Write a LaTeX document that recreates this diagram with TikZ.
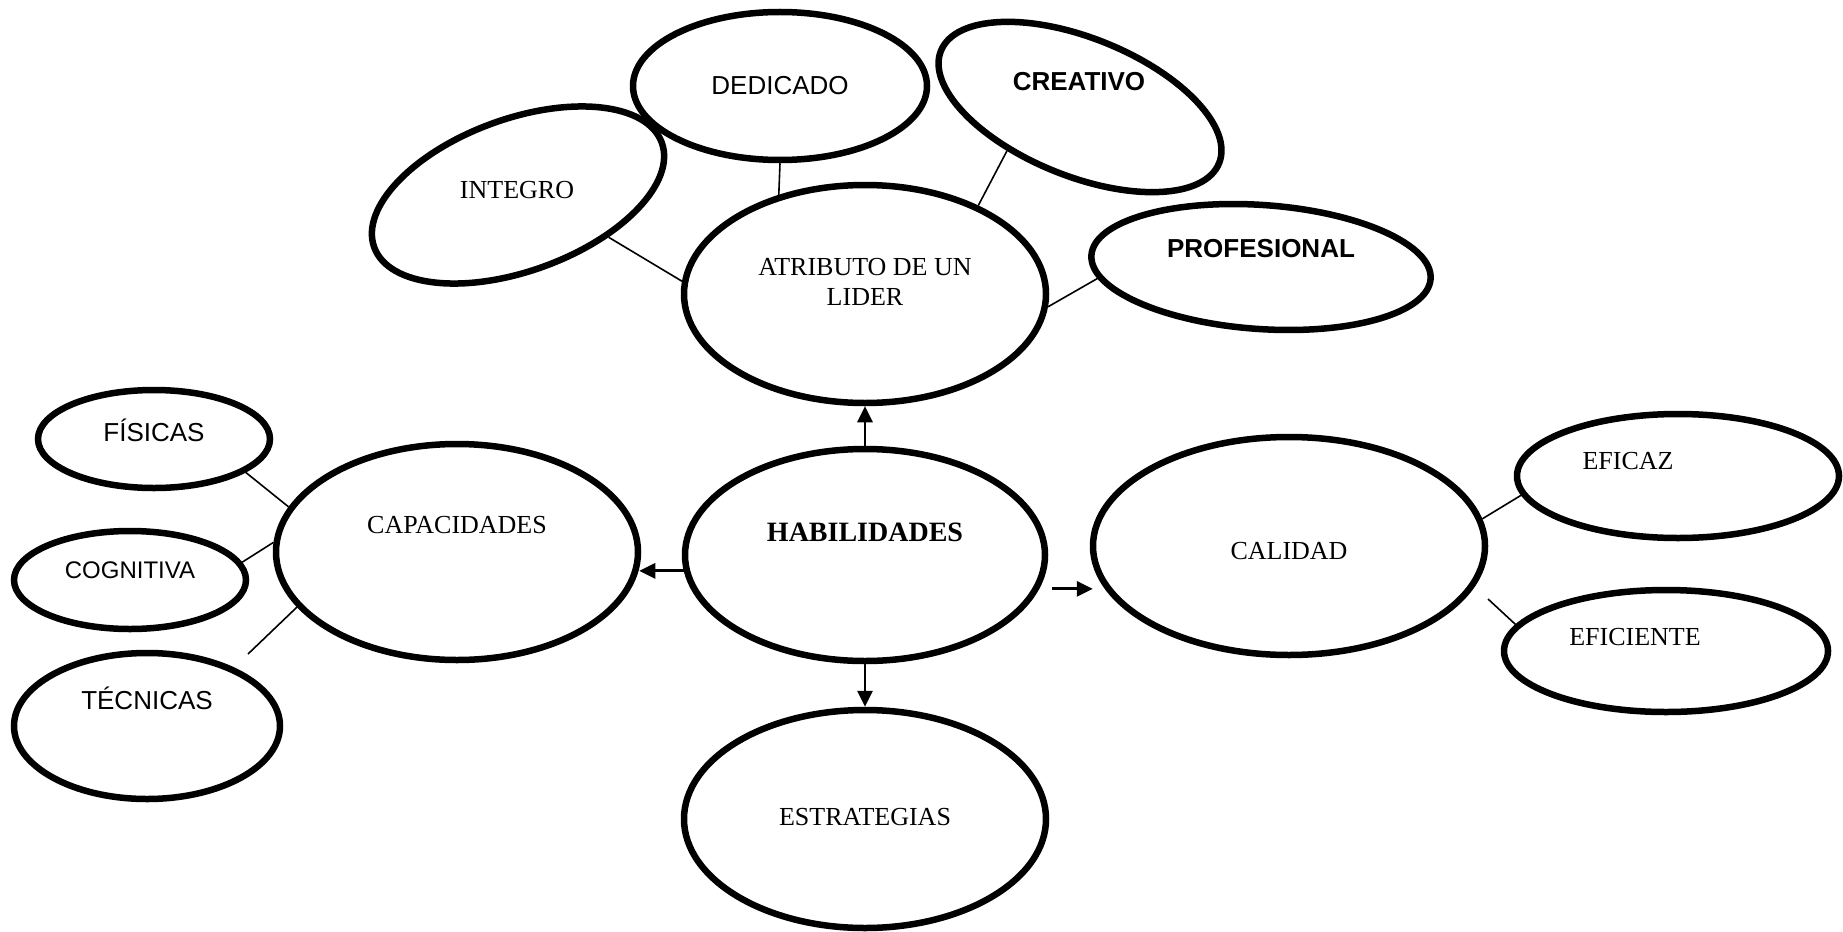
\documentclass[tikz,border=0pt]{standalone}
\usepackage{fontspec}
\setmainfont{Liberation Serif}
\newfontfamily\arialf{Liberation Sans}
\usetikzlibrary{shapes.geometric,arrows.meta}
\tikzset{
  bub/.style={draw=black, line width=6.5pt, ellipse, inner sep=0pt, fill=white},
  lnk/.style={line width=1.6pt},
  arr/.style={line width=2.8pt, -{Triangle[length=16pt,width=15pt]}},
  tms/.style={font=\fontsize{26}{30}\selectfont, align=center},
  tmsb/.style={font=\fontsize{28}{32}\selectfont\bfseries},
  ari/.style={font=\fontsize{26}{30}\selectfont\arialf},
  arib/.style={font=\fontsize{26}{30}\selectfont\arialf\bfseries},
}
\begin{document}
\begin{tikzpicture}[x=1pt,y=-1pt]
\useasboundingbox (0,0) rectangle (1843,931);
% ellipses
\node[bub, minimum width=360pt, minimum height=212pt] (hab) at (865,555) {};
\node[bub, minimum width=362pt, minimum height=218pt] (atrib) at (865,294) {};
\node[bub, minimum width=306pt, minimum height=152pt, rotate=20] (integro) at (518,195) {};
\node[bub, minimum width=294pt, minimum height=148pt] (dedicado) at (780,86) {};
\node[bub, minimum width=300pt, minimum height=138pt, rotate=-22] (creativo) at (1080,107) {};
\node[bub, minimum width=340pt, minimum height=124pt, rotate=-4] (profesional) at (1261,267) {};
\node[bub, minimum width=362pt, minimum height=216pt] (cap) at (457,552) {};
\node[bub, minimum width=232pt, minimum height=98pt] (fisicas) at (154,439) {};
\node[bub, minimum width=232pt, minimum height=98pt] (cognitiva) at (130,580) {};
\node[bub, minimum width=266pt, minimum height=146pt] (tecnicas) at (147,726) {};
\node[bub, minimum width=392pt, minimum height=218pt] (cal) at (1289,546) {};
\node[bub, minimum width=322pt, minimum height=124pt] (eficaz) at (1678,476) {};
\node[bub, minimum width=324pt, minimum height=122pt] (eficiente) at (1666,651) {};
\node[bub, minimum width=362pt, minimum height=218pt] (estr) at (865,819) {};
% texts
\node[tmsb] (thab) at (865,532) {HABILIDADES};
\node[tms] (tatrib) at (865,282) {ATRIBUTO DE UN\\LIDER};
\node[tms] (tintegro) at (517,190) {INTEGRO};
\node[ari] (tdedicado) at (780,86) {DEDICADO};
\node[arib] (tcreativo) at (1079,82) {CREATIVO};
\node[arib] (tprofesional) at (1261,249) {PROFESIONAL};
\node[tms] (tcap) at (457,525) {CAPACIDADES};
\node[ari] (tfisicas) at (154,430) {FÍSICAS};
\node[ari, font=\fontsize{24}{28}\selectfont\arialf] (tcognitiva) at (130,570) {COGNITIVA};
\node[ari] (ttecnicas) at (147,698) {TÉCNICAS};
\node[tms] (tcal) at (1289,551) {CALIDAD};
\node[tms] (teficaz) at (1628,461) {EFICAZ};
\node[tms] (teficiente) at (1635,637) {EFICIENTE};
\node[tms] (testr) at (865,817) {ESTRATEGIAS};
% free ends
\coordinate (tecEnd) at (248,654);
\coordinate (calEnd) at (1488,599);
% connectors
\draw[lnk] (integro.-45) -- (atrib.176);
\draw[lnk] (dedicado.south) -- (atrib.131.5);
\draw[lnk] (creativo.-127) -- (atrib.38.6);
\draw[lnk] (profesional.188) -- (atrib.-4);
\draw[lnk] (fisicas.-20) -- (cap.165.6);
\draw[lnk] (cognitiva.9) -- (cap.177.5);
\draw[lnk] (tecEnd) -- (cap.-161.5);
\draw[lnk] (cal.8.3) -- (eficaz.187);
\draw[lnk] (calEnd) -- (eficiente.170);
% arrows
\draw[arr] (hab.north) -- (atrib.south);
\draw[arr, shorten >=-2pt] (hab.185) -- (hab.185 -| cap.east);
\draw[arr, shorten <=13pt, shorten >=-3pt] (hab.-11) -- (hab.-11 -| cal.west);
\draw[arr] (hab.south) -- (estr.north);
\end{tikzpicture}
\end{document}
